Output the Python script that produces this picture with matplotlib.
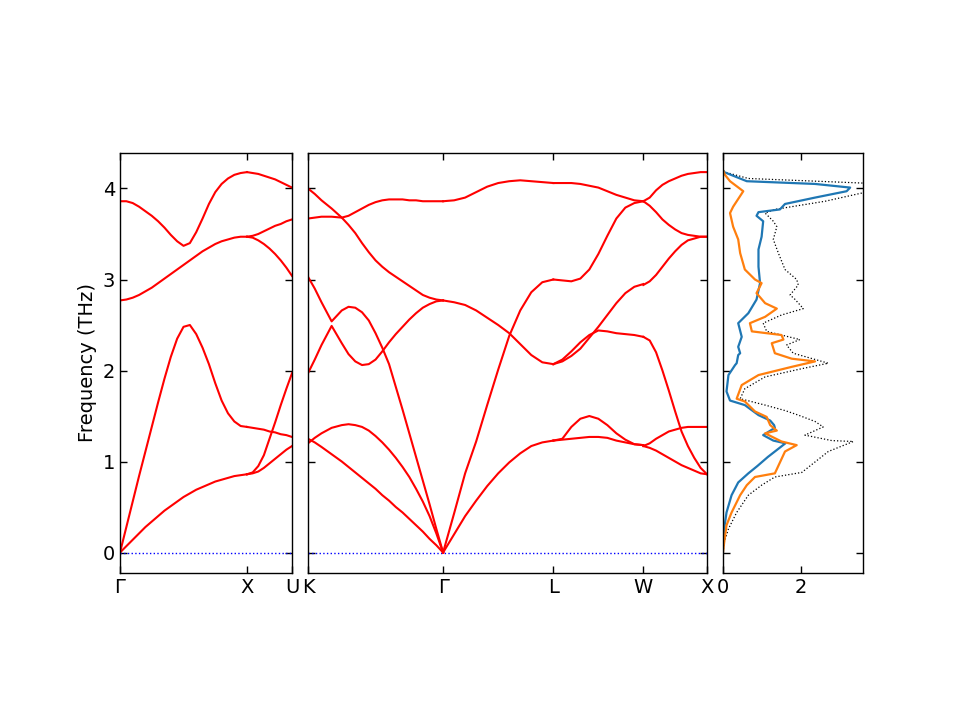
import numpy as np
import matplotlib
matplotlib.use("Agg")
import matplotlib.pyplot as plt

plt.rcParams['font.family'] = ['DejaVu Sans']
plt.rcParams['font.size'] = 14

# path segment lengths (2pi/a)
len_GX, len_XU = 1.0, 0.354
len_KG, len_GL, len_LW, len_WX = 1.061, 0.866, 0.707, 0.5

# ---- band frequencies (THz) read along each segment, t = fraction of segment ----
t_GX = [0, 0.05, 0.1, 0.15, 0.2, 0.25, 0.3, 0.35, 0.4, 0.45, 0.5,
        0.55, 0.6, 0.65, 0.7, 0.75, 0.8, 0.85, 0.9, 0.95, 1.0]
GX_TA = [0, 0.07, 0.14, 0.21, 0.28, 0.34, 0.40, 0.46, 0.51, 0.56, 0.61,
         0.65, 0.69, 0.72, 0.75, 0.78, 0.80, 0.82, 0.84, 0.85, 0.86]
GX_LA = [0, 0.28, 0.56, 0.84, 1.11, 1.38, 1.65, 1.91, 2.15, 2.35, 2.48,
         2.50, 2.40, 2.25, 2.07, 1.86, 1.67, 1.53, 1.44, 1.39, 1.38]
GX_TO = [2.77, 2.78, 2.80, 2.83, 2.87, 2.91, 2.96, 3.01, 3.06, 3.11, 3.16,
         3.21, 3.26, 3.31, 3.35, 3.39, 3.42, 3.44, 3.46, 3.47, 3.47]
GX_LO = [3.86, 3.86, 3.84, 3.80, 3.75, 3.70, 3.64, 3.57, 3.49, 3.42, 3.37,
         3.40, 3.52, 3.67, 3.83, 3.96, 4.05, 4.11, 4.15, 4.17, 4.18]

t_XU = [0, 0.125, 0.25, 0.375, 0.5, 0.625, 0.75, 0.875, 1.0]
XU_b1 = [0.86, 0.87, 0.89, 0.93, 0.98, 1.03, 1.08, 1.13, 1.17]
XU_b2 = [0.86, 0.88, 0.95, 1.07, 1.25, 1.43, 1.62, 1.80, 1.97]
XU_b3 = [1.38, 1.37, 1.36, 1.35, 1.33, 1.32, 1.30, 1.29, 1.27]
XU_b4 = [3.47, 3.46, 3.43, 3.39, 3.34, 3.28, 3.21, 3.13, 3.04]
XU_b5 = [3.47, 3.48, 3.50, 3.53, 3.56, 3.59, 3.61, 3.64, 3.66]
XU_b6 = [4.18, 4.17, 4.16, 4.14, 4.12, 4.10, 4.07, 4.04, 4.01]

t_KG = [0, 0.05, 0.1, 0.175, 0.25, 0.3, 0.35, 0.4, 0.45, 0.5,
        0.55, 0.6, 0.65, 0.7, 0.75, 0.8, 0.85, 0.9, 0.95, 1.0]
KG_b1 = [1.25, 1.21, 1.16, 1.08, 1.00, 0.94, 0.88, 0.82, 0.76, 0.70,
         0.63, 0.57, 0.50, 0.44, 0.37, 0.30, 0.23, 0.15, 0.08, 0]
KG_b2 = [1.20, 1.26, 1.31, 1.37, 1.40, 1.41, 1.40, 1.38, 1.34, 1.28,
         1.21, 1.13, 1.04, 0.94, 0.83, 0.70, 0.56, 0.40, 0.21, 0]
KG_b3 = [3.03, 2.90, 2.75, 2.54, 2.66, 2.70, 2.69, 2.64, 2.55, 2.41,
         2.25, 2.07, 1.82, 1.57, 1.31, 1.05, 0.79, 0.53, 0.26, 0]
KG_b4 = [1.97, 2.12, 2.28, 2.49, 2.30, 2.18, 2.10, 2.06, 2.07, 2.12,
         2.21, 2.31, 2.40, 2.48, 2.56, 2.63, 2.69, 2.73, 2.76, 2.77]
KG_b5 = [4.00, 3.94, 3.87, 3.78, 3.68, 3.60, 3.51, 3.40, 3.30, 3.21,
         3.14, 3.08, 3.03, 2.98, 2.93, 2.88, 2.83, 2.80, 2.78, 2.77]
KG_b6 = [3.67, 3.68, 3.69, 3.69, 3.68, 3.70, 3.74, 3.78, 3.82, 3.85,
         3.87, 3.88, 3.88, 3.88, 3.87, 3.87, 3.86, 3.86, 3.86, 3.86]

t_GL = [0, 0.1, 0.2, 0.3, 0.4, 0.5, 0.6, 0.7, 0.8, 0.9, 1.0]
GL_TA = [0, 0.20, 0.40, 0.57, 0.73, 0.87, 0.99, 1.09, 1.17, 1.21, 1.23]
GL_LA = [0, 0.43, 0.87, 1.22, 1.62, 2.01, 2.38, 2.66, 2.86, 2.97, 3.00]
GL_TO = [2.77, 2.75, 2.72, 2.66, 2.58, 2.50, 2.41, 2.29, 2.17, 2.09, 2.07]
GL_LO = [3.86, 3.87, 3.90, 3.96, 4.02, 4.06, 4.08, 4.09, 4.08, 4.07, 4.06]

t_LW = [0, 0.1, 0.2, 0.3, 0.4, 0.5, 0.6, 0.7, 0.8, 0.9, 1.0]
LW_b1 = [1.23, 1.24, 1.25, 1.26, 1.27, 1.27, 1.26, 1.23, 1.21, 1.19, 1.18]
LW_b2 = [1.23, 1.25, 1.38, 1.47, 1.50, 1.47, 1.40, 1.31, 1.24, 1.19, 1.18]
LW_b3 = [2.07, 2.12, 2.21, 2.31, 2.39, 2.44, 2.43, 2.41, 2.40, 2.39, 2.37]
LW_b4 = [2.07, 2.10, 2.16, 2.24, 2.36, 2.48, 2.61, 2.74, 2.85, 2.92, 2.95]
LW_b5 = [3.00, 2.99, 2.98, 3.01, 3.11, 3.28, 3.48, 3.67, 3.79, 3.84, 3.86]
LW_b6 = [4.06, 4.06, 4.06, 4.05, 4.03, 4.01, 3.97, 3.93, 3.90, 3.87, 3.86]

t_WX = [0, 0.1, 0.2, 0.3, 0.4, 0.5, 0.6, 0.7, 0.8, 0.9, 1.0]
WX_b1 = [1.17, 1.15, 1.12, 1.08, 1.04, 1.00, 0.96, 0.93, 0.90, 0.87, 0.86]
WX_b2 = [1.17, 1.20, 1.25, 1.29, 1.33, 1.35, 1.37, 1.38, 1.38, 1.38, 1.38]
WX_b3 = [2.37, 2.33, 2.20, 2.00, 1.78, 1.55, 1.33, 1.17, 1.04, 0.93, 0.86]
WX_b4 = [2.94, 2.98, 3.05, 3.14, 3.23, 3.31, 3.38, 3.43, 3.45, 3.47, 3.47]
WX_b5 = [3.86, 3.81, 3.74, 3.66, 3.60, 3.55, 3.51, 3.49, 3.48, 3.47, 3.47]
WX_b6 = [3.86, 3.90, 3.98, 4.04, 4.08, 4.11, 4.14, 4.16, 4.17, 4.18, 4.18]

# ---- projected DOS (frequency, states) ----
pdos1_freq = [0.0, 0.11, 0.26, 0.44, 0.63, 0.77, 0.87, 0.95, 1.05, 1.14, 1.20,
              1.23, 1.29, 1.37, 1.40, 1.45, 1.51, 1.62, 1.67, 1.77, 1.95, 2.06,
              2.08, 2.17, 2.19, 2.26, 2.37, 2.52, 2.63, 2.78, 2.96, 3.14, 3.33,
              3.47, 3.64, 3.70, 3.74, 3.77, 3.83, 3.90, 3.97, 4.01, 4.05, 4.08,
              4.18, 4.20]
pdos1 = [0.0, 0.0, 0.03, 0.09, 0.22, 0.39, 0.65, 0.88, 1.15, 1.42, 1.60,
         1.29, 1.03, 1.33, 1.31, 1.21, 0.91, 0.56, 0.18, 0.09, 0.14, 0.31,
         0.35, 0.39, 0.44, 0.39, 0.48, 0.39, 0.65, 0.86, 0.95, 0.91, 0.91,
         0.99, 1.03, 0.86, 0.91, 1.46, 1.59, 2.36, 3.17, 3.26, 2.36, 0.61,
         0.03, 0.0]

pdos2_freq = [0.0, 0.11, 0.30, 0.44, 0.63, 0.74, 0.83, 0.87, 1.11, 1.18,
              1.22, 1.31, 1.34, 1.40, 1.49, 1.55, 1.66, 1.69, 1.84, 1.95,
              2.04, 2.10, 2.13, 2.19, 2.30, 2.34, 2.39, 2.43, 2.52, 2.59,
              2.68, 2.74, 2.85, 2.96, 3.00, 3.11, 3.29, 3.44, 3.58, 3.73,
              3.80, 3.97, 4.08, 4.15, 4.20]
pdos2 = [0.0, 0.03, 0.09, 0.22, 0.44, 0.61, 0.82, 1.33, 1.59, 1.89,
         1.50, 1.08, 1.38, 1.21, 1.12, 0.82, 0.56, 0.35, 0.48, 0.91,
         1.76, 2.36, 1.76, 1.33, 1.25, 1.55, 1.50, 0.74, 0.69, 1.08,
         1.38, 1.08, 0.86, 0.99, 0.82, 0.56, 0.44, 0.39, 0.26, 0.18,
         0.26, 0.52, 0.18, 0.05, 0.0]

total_freq = [0.0, 0.11, 0.26, 0.44, 0.63, 0.74, 0.83, 0.88, 1.11, 1.22,
              1.23, 1.29, 1.38, 1.44, 1.51, 1.56, 1.62, 1.69, 1.80, 1.93,
              2.02, 2.08, 2.19, 2.28, 2.34, 2.43, 2.52, 2.61, 2.68, 2.78,
              2.83, 2.94, 3.00, 3.11, 3.29, 3.44, 3.58, 3.64, 3.73, 3.77,
              3.80, 3.86, 3.95, 4.02, 4.06, 4.11, 4.18, 4.20]
total = [0.0, 0.03, 0.14, 0.35, 0.65, 0.99, 1.33, 2.02, 2.70, 3.34,
         2.79, 2.10, 2.57, 2.36, 1.93, 1.59, 1.08, 0.44, 0.56, 1.08,
         2.02, 2.70, 1.80, 1.63, 1.97, 1.12, 1.03, 1.50, 2.06, 1.85,
         1.72, 1.93, 1.89, 1.59, 1.42, 1.29, 1.38, 1.29, 1.08, 1.33,
         1.76, 2.62, 3.56, 4.00, 3.56, 0.65, 0.05, 0.0]

panel1_segments = [
    (0.0, len_GX, t_GX, [GX_TA, GX_LA, GX_TO, GX_LO]),
    (len_GX, len_XU, t_XU, [XU_b1, XU_b2, XU_b3, XU_b4, XU_b5, XU_b6]),
]
start_GL = len_KG
start_LW = start_GL + len_GL
start_WX = start_LW + len_LW
panel2_segments = [
    (0.0, len_KG, t_KG, [KG_b1, KG_b2, KG_b3, KG_b4, KG_b5, KG_b6]),
    (start_GL, len_GL, t_GL, [GL_TA, GL_LA, GL_TO, GL_LO]),
    (start_LW, len_LW, t_LW, [LW_b1, LW_b2, LW_b3, LW_b4, LW_b5, LW_b6]),
    (start_WX, len_WX, t_WX, [WX_b1, WX_b2, WX_b3, WX_b4, WX_b5, WX_b6]),
]

fig = plt.figure(figsize=(9.6, 7.2), dpi=100)
ax1 = fig.add_axes([120 / 960, 147 / 720, 172 / 960, 420 / 720])
ax2 = fig.add_axes([308 / 960, 147 / 720, 399 / 960, 420 / 720])
ax3 = fig.add_axes([723 / 960, 147 / 720, 140 / 960, 420 / 720])

ylim = (-0.225, 4.39)

for ax, segs in [(ax1, panel1_segments), (ax2, panel2_segments)]:
    ax.axhline(0, color='#0000ff', ls=':', lw=1.0)
    for start, length, t, bands in segs:
        q = start + np.array(t) * length
        for b in bands:
            ax.plot(q, b, color='r', lw=1.5, solid_joinstyle='round')

ax1.set_xlim(0, len_GX + len_XU)
ax1.set_xticks([0, len_GX, len_GX + len_XU])
ax1.set_xticklabels(['Γ', 'X', 'U'])
ax1.set_ylabel('Frequency (THz)')

ax2.set_xlim(0, start_WX + len_WX)
ax2.set_xticks([0, start_GL, start_LW, start_WX, start_WX + len_WX])
ax2.set_xticklabels(['K', 'Γ', 'L', 'W', 'X'])

ax3.plot(total, total_freq, color='k', ls=':', lw=0.9)
ax3.plot(pdos1, pdos1_freq, color='C0', lw=1.6)
ax3.plot(pdos2, pdos2_freq, color='C1', lw=1.6)
ax3.set_xlim(0, 3.59)
ax3.set_xticks([0, 2])

for ax in (ax1, ax2, ax3):
    ax.set_ylim(*ylim)
    ax.set_yticks([0, 1, 2, 3, 4])
    ax.tick_params(direction='in', top=True, right=True, length=5, width=1)
    for sp in ax.spines.values():
        sp.set_linewidth(1.0)
ax2.tick_params(labelleft=False)
ax3.tick_params(labelleft=False)

fig.savefig('out.png', dpi=100)
